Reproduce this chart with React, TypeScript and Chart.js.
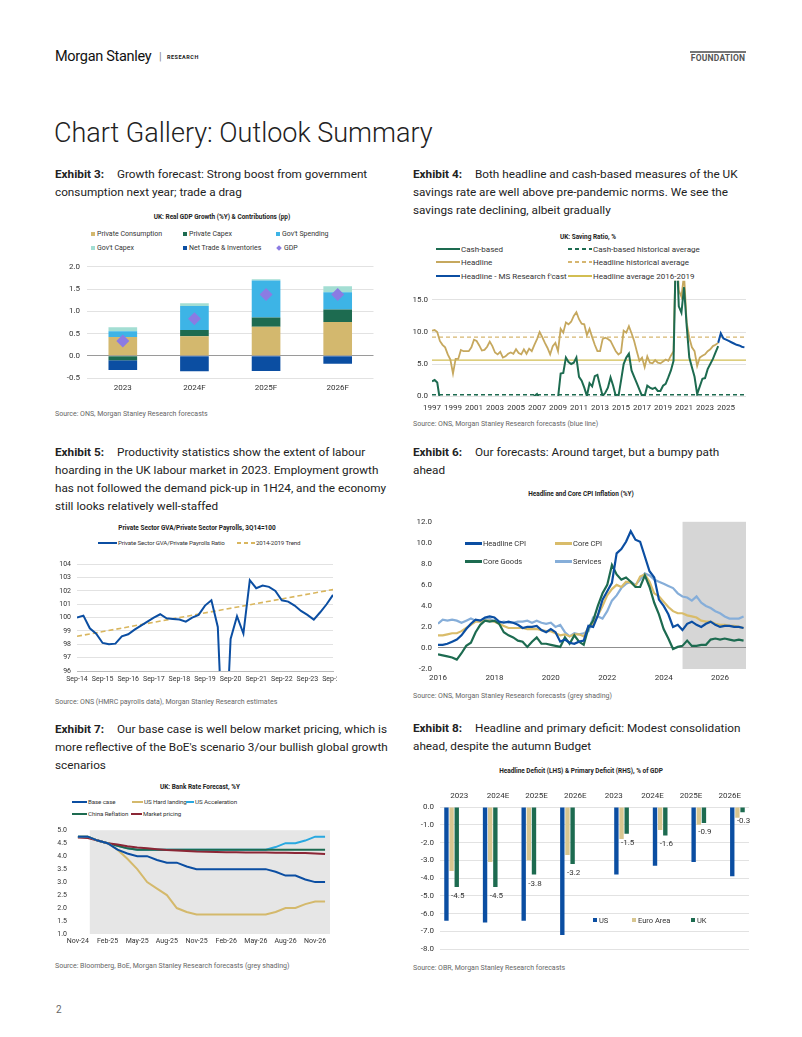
import React, { useEffect, useRef } from 'react';
import { Chart, registerables } from 'chart.js';

Chart.register(...registerables);

const FONT = 'Roboto, "Noto Sans", "DejaVu Sans", sans-serif';
Chart.defaults.font.family = FONT;
Chart.defaults.color = '#333';

// ================= Exhibit 3 data =================
const gdpYears = ['2023', '2024F', '2025F', '2026F'];
const privateConsumption = [0.42, 0.44, 0.65, 0.76];
const privateCapex = [-0.1, 0.14, 0.21, 0.28];
const govSpending = [0.13, 0.54, 0.83, 0.39];
const govCapex = [0.09, 0.06, 0.03, 0.13];
const netTradeInventories = [-0.22, -0.35, -0.34, -0.18];
const gdpTotal = [0.33, 0.83, 1.38, 1.38];

// ================= Exhibit 4 data (quarterly, 1997Q1 - 2024Q2) =================
const savingStartYear = 1997;
const savingYearTicks = [1997, 1999, 2001, 2003, 2005, 2007, 2009, 2011, 2013, 2015, 2017, 2019, 2021, 2023, 2025];
const headlineSaving = [
  10.2, 10.3, 10.0, 8.6,
  8.0, 7.6, 6.5, 5.7,
  3.5, 5.8, 5.8, 7.2,
  7.0, 7.0, 7.0, 7.6,
  8.8, 8.6, 7.9, 7.1,
  7.2, 7.7, 8.5, 7.8,
  6.8, 6.5, 6.9, 6.0,
  6.2, 6.6, 6.8, 6.6,
  7.3, 6.7, 6.5, 7.3,
  6.6, 7.4, 7.0, 8.0,
  8.9, 10.0, 9.2, 8.3,
  7.5, 6.5, 7.8, 8.3,
  7.0, 10.5, 9.9, 11.5,
  11.2, 11.6, 12.5, 13.1,
  12.0, 11.3, 11.2, 9.5,
  10.5, 9.2, 8.0, 7.0,
  7.0, 8.9, 9.1, 8.9,
  8.6, 7.8, 7.0, 6.5,
  6.8, 10.2, 9.9, 10.9,
  9.8, 8.6, 7.0, 5.5,
  6.0, 4.5, 6.2, 5.2,
  5.1, 5.6, 5.2, 5.1,
  5.4, 5.7, 5.5, 6.3,
  7.0, 26.0, 16.5, 15.5,
  19.0, 11.5, 9.1, 7.6,
  7.0, 4.7, 6.0, 6.3,
  6.5, 7.0, 7.3, 7.8,
  8.0, 8.3,
];
const cashSaving = [
  2.3, 2.5, 2.1, -0.6,
  -1.5, -2.0, -2.5, -2.8,
  -3.0, -2.5, -2.0, -1.5,
  -1.2, -1.0, -0.8, -0.5,
  -0.3, -0.1, -0.6, -1.2,
  -1.8, -2.2, -2.5, -3.0,
  -3.2, -3.5, -3.2, -3.6,
  -3.4, -3.0, -3.0, -2.8,
  -2.5, -2.8, -2.5, -2.2,
  -2.0, -1.0, -0.5, 0.0,
  0.3, -0.4, -1.2, -1.8,
  -2.2, -1.5, -1.0, -0.6,
  -0.3, 3.5, 3.6, 6.0,
  5.3, 5.0, 5.2, 6.0,
  3.0, 2.4, 1.3, 0.0,
  2.0, 1.5, 3.1, 3.3,
  1.6, 0.0, 0.5, 1.3,
  2.9, 1.6, 0.0, -0.1,
  2.4, 5.0, 6.0, 6.6,
  4.0, 3.0, 2.0, 1.0,
  0.0, 0.0, 1.6, 1.3,
  1.1, 1.3, 0.8, 0.8,
  1.6, 1.9, 2.9, 4.0,
  5.5, 25.0, 14.0, 13.0,
  17.0, 11.0, 6.0, 4.5,
  3.0, 0.3, 1.5, 2.7,
  2.8, 4.2, 5.0, 5.8,
  6.8, 7.8,
];
const forecastStartYear = 2024.25;
const headlineForecast = [8.3, 9.8, 9.0, 8.8, 8.6, 8.4, 8.2, 8.0, 7.9, 7.7, 7.6];
const CASH_HIST_AVG = 0.2;
const HEADLINE_HIST_AVG = 9.2;
const HEADLINE_AVG_2016_2019 = 5.6;
const savingRange = [1997, 2026.9];

// ================= Exhibit 5 data (quarterly from Sep-14) =================
const gvaTickLabels = ['Sep-14', 'Sep-15', 'Sep-16', 'Sep-17', 'Sep-18', 'Sep-19', 'Sep-20', 'Sep-21', 'Sep-22', 'Sep-23', 'Sep-24'];
const gvaPayrollRatio = [
  100.0, 100.15, 99.2, 98.8, 98.1, 98.0, 98.05, 98.6, 98.75, 99.1,
  99.4, 99.7, 100.0, 100.25, 99.95, 99.9, 99.85, 99.7, 100.0, 100.2,
  100.9, 101.3, 99.3, 88.0, 98.4, 100.1, 98.8, 102.8, 102.2, 102.4,
  102.3, 102.0, 101.3, 101.2, 100.9, 100.5, 100.2, 99.85, 100.4, 101.0,
  101.7,
];
const gvaTrendEnds = [98.6, 102.1];

// ================= Exhibit 6 data (every 2 months from Jan-2016) =================
const cpiStartYear = 2016;
const cpiYearTicks = [2016, 2018, 2020, 2022, 2024, 2026];
const CPI_FORECAST_START = 2024.67;
const headlineCPI = [
  0.3, 0.3, 0.4, 0.6, 0.8, 1.2,
  1.8, 2.3, 2.7, 2.6, 2.9, 3.0,
  2.9, 2.5, 2.4, 2.5, 2.4, 2.2,
  1.9, 2.0, 2.0, 2.1, 1.7, 1.5,
  1.8, 1.5, 0.6, 0.8, 0.5, 0.4,
  0.6, 0.7, 2.1, 2.0, 3.1, 4.6,
  5.4, 6.2, 9.0, 9.4, 10.1, 11.1,
  10.3, 10.1, 8.7, 7.3, 6.7, 4.6,
  4.0, 3.2, 2.0, 2.2, 1.7, 2.3,
  2.5, 2.2, 2.0, 2.3, 2.5, 2.2,
  2.0, 2.1, 2.1, 2.0, 2.0, 1.9,
];
const coreCPI = [
  1.2, 1.2, 1.3, 1.4, 1.4, 1.6,
  1.9, 2.2, 2.5, 2.5, 2.6, 2.6,
  2.5, 2.3, 2.1, 1.9, 1.9, 1.9,
  1.9, 1.8, 1.8, 1.8, 1.7, 1.6,
  1.6, 1.4, 1.2, 1.3, 1.1, 1.3,
  1.3, 1.1, 2.0, 2.3, 3.1, 4.0,
  5.0, 5.6, 6.0, 5.8, 6.3, 6.2,
  5.9, 6.8, 7.0, 6.3, 5.2, 4.9,
  4.4, 3.9, 3.5, 3.3, 3.3, 3.1,
  3.0, 2.9, 2.6, 2.5, 2.5, 2.3,
  2.2, 2.2, 2.1, 2.1, 2.0, 1.9,
];
const coreGoods = [
  -0.6, -0.7, -0.8, -0.9, -1.1, -0.5,
  0.2, 0.5, 1.5, 2.2, 2.6, 2.5,
  2.6, 2.3, 1.5, 1.2, 1.0, 0.7,
  0.6, 0.1, 0.6, 1.0, 0.4, 0.4,
  0.3, 0.2, 0.1, 1.0, 0.4, 1.2,
  0.6, 0.3, 1.9, 2.6, 4.0, 5.2,
  6.0, 7.9, 7.0, 6.5, 6.7, 6.3,
  5.8, 5.8, 6.9, 5.8, 4.3, 3.2,
  1.8, 0.9, -0.1, 0.1, 0.2, 0.7,
  0.2, 0.2, 0.3, 0.3, 0.8, 0.9,
  0.8, 0.9, 0.8, 0.7, 0.8, 0.7,
];
const servicesCPI = [
  2.3, 2.7, 2.6, 2.7, 2.6, 2.4,
  2.6, 2.8, 2.6, 2.6, 2.8, 2.8,
  2.5, 2.4, 2.5, 2.4, 2.4, 2.5,
  2.5, 2.6, 2.4, 2.6, 2.4, 2.3,
  2.4, 2.0, 2.2, 1.5, 1.1, 1.4,
  1.3, 1.4, 1.6, 2.9, 3.0, 2.8,
  3.5, 4.5, 5.0, 5.7, 6.1, 6.3,
  6.0, 6.5, 7.1, 6.9, 6.5, 6.3,
  6.1, 5.9, 5.7, 5.2, 4.9, 4.8,
  4.5, 4.9, 4.3, 4.0, 3.8, 3.5,
  3.3, 3.0, 2.8, 2.8, 2.8, 3.0,
];

// ================= Exhibit 7 data (monthly Nov-24 .. Dec-26) =================
const bankRateTickLabels = ['Nov-24', 'Feb-25', 'May-25', 'Aug-25', 'Nov-25', 'Feb-26', 'May-26', 'Aug-26', 'Nov-26'];
const BANK_SHADE_START = 1.2;
const baseCase = [4.75, 4.75, 4.6, 4.5, 4.25, 4.1, 4.0, 4.0, 3.85, 3.75, 3.75, 3.6, 3.5, 3.5, 3.5, 3.5, 3.5, 3.5, 3.5, 3.5, 3.4, 3.25, 3.25, 3.1, 3.0, 3.0];
const usHardLanding = [4.75, 4.75, 4.6, 4.5, 4.25, 3.9, 3.5, 3.0, 2.75, 2.5, 2.0, 1.85, 1.75, 1.75, 1.75, 1.75, 1.75, 1.75, 1.75, 1.75, 1.85, 2.0, 2.0, 2.15, 2.25, 2.25];
const usAcceleration = [4.75, 4.75, 4.6, 4.5, 4.4, 4.3, 4.25, 4.25, 4.25, 4.25, 4.25, 4.25, 4.25, 4.25, 4.25, 4.25, 4.25, 4.25, 4.25, 4.25, 4.35, 4.5, 4.5, 4.6, 4.75, 4.75];
const chinaReflation = [4.75, 4.75, 4.6, 4.5, 4.4, 4.3, 4.25, 4.25, 4.25, 4.25, 4.25, 4.25, 4.25, 4.25, 4.25, 4.25, 4.25, 4.25, 4.25, 4.25, 4.25, 4.25, 4.25, 4.25, 4.25, 4.25];
const marketPricing = [4.72, 4.7, 4.6, 4.5, 4.45, 4.38, 4.33, 4.3, 4.27, 4.24, 4.22, 4.2, 4.18, 4.17, 4.16, 4.15, 4.15, 4.14, 4.14, 4.14, 4.13, 4.13, 4.12, 4.12, 4.1, 4.08];

// ================= Exhibit 8 data =================
const deficitCategories = ['2023', '2024E', '2025E', '2026E', '2023', '2024E', '2025E', '2026E'];
const usDeficit = [-6.4, -6.5, -6.4, -7.2, -3.8, -3.3, -3.1, -3.9];
const euroDeficit = [-3.6, -3.1, -3.0, -2.7, -1.8, -1.3, -1.0, -0.6];
const ukDeficit = [-4.5, -4.5, -3.8, -3.2, -1.5, -1.6, -0.9, -0.3];
const HEADLINE_COUNT = 4;

// ================= Colours =================
const COL = {
  navy: '#0B4EA2',
  tan: '#D3B86E',
  green: '#1D6B50',
  cyan: '#3DB4E6',
  mint: '#A3DED3',
  purple: '#8B7BE3',
  lightBlue: '#86AED9',
  maroon: '#8B2635',
  headlineTan: '#C6A85E',
  avgYellow: '#D2BE52',
  accel: '#29A8E0',
  euro: '#D8C690',
  grid: '#e2e2e2',
};

const shadePlugin = (id: string, from: number, color: string) => ({
  id,
  beforeDraw(chart: any) {
    const { ctx, chartArea, scales } = chart;
    const x0 = scales.x.getPixelForValue(from);
    ctx.save();
    ctx.fillStyle = color;
    ctx.fillRect(x0, chartArea.top, chartArea.right - x0, chartArea.bottom - chartArea.top);
    ctx.restore();
  },
});

const valueLabelPlugin = {
  id: 'valueLabels',
  afterDatasetsDraw(chart: any) {
    const { ctx } = chart;
    chart.data.datasets.forEach((ds: any, di: number) => {
      if (!ds.showValueLabel) return;
      const meta = chart.getDatasetMeta(di);
      meta.data.forEach((el: any, i: number) => {
        const v = ds.data[i];
        if (v === null || v === undefined) return;
        ctx.save();
        ctx.font = `8px ${FONT}`;
        ctx.fillStyle = '#333';
        ctx.textAlign = 'center';
        ctx.textBaseline = 'middle';
        ctx.fillText(v.toFixed(1), el.x + 1, el.y + 9);
        ctx.restore();
      });
    });
  },
};

const tickFont = (size: number) => ({ size, family: FONT });
const xy = (start: number, step: number, arr: number[]) => arr.map((y, i) => ({ x: start + i * step, y }));
const hLine = (range: number[], v: number) => [{ x: range[0], y: v }, { x: range[1], y: v }];
const noGrid = { display: false, drawTicks: false };

const baseOpts = (padding: any) => ({
  animation: false,
  responsive: false,
  maintainAspectRatio: false,
  devicePixelRatio: 1,
  layout: { padding },
  plugins: { legend: { display: false }, tooltip: { enabled: false } },
});

// ---------- Exhibit 3 config
const gdpConfig = () => ({
  type: 'bar',
  data: {
    labels: gdpYears,
    datasets: [
      { type: 'line', label: 'GDP', data: gdpTotal, showLine: false, pointStyle: 'rectRot', pointRadius: 6.5, pointBackgroundColor: COL.purple, pointBorderWidth: 0, stack: 'gdp' },
      { label: 'Private Consumption', data: privateConsumption, backgroundColor: COL.tan, stack: 'c' },
      { label: 'Private Capex', data: privateCapex, backgroundColor: COL.green, stack: 'c' },
      { label: "Gov't Spending", data: govSpending, backgroundColor: COL.cyan, stack: 'c' },
      { label: "Gov't Capex", data: govCapex, backgroundColor: COL.mint, stack: 'c' },
      { label: 'Net Trade & Inventories', data: netTradeInventories, backgroundColor: COL.navy, stack: 'c' },
    ],
  },
  options: {
    ...baseOpts({ top: 8, right: 3, left: 0, bottom: 0 }),
    datasets: { bar: { categoryPercentage: 1, barPercentage: 0.4 } },
    scales: {
      x: {
        stacked: true,
        grid: noGrid,
        border: { display: false },
        ticks: { font: tickFont(8), padding: 5 },
        afterFit: (s: any) => { s.height = 20; },
      },
      y: {
        stacked: true,
        min: -0.5,
        max: 2,
        ticks: { stepSize: 0.5, callback: (v: any) => Number(v).toFixed(1), font: tickFont(8), padding: 7 },
        grid: { color: (c: any) => (c.tick && c.tick.value === 0 ? '#9a9a9a' : COL.grid), drawTicks: false },
        border: { display: false },
        afterFit: (s: any) => { s.width = 32; },
      },
    },
  },
});

// ---------- Exhibit 4 config
const savingConfig = () => ({
  type: 'line',
  data: {
    datasets: [
      { label: 'Cash-based', data: xy(savingStartYear, 0.25, cashSaving), borderColor: COL.green, borderWidth: 2, pointRadius: 0 },
      { label: 'Headline', data: xy(savingStartYear, 0.25, headlineSaving), borderColor: COL.headlineTan, borderWidth: 1.8, pointRadius: 0 },
      { label: "Headline - MS Research f'cast", data: xy(forecastStartYear, 0.25, headlineForecast), borderColor: COL.navy, borderWidth: 2, pointRadius: 0 },
      { label: 'Cash-based historical average', data: hLine(savingRange, CASH_HIST_AVG), borderColor: COL.green, borderWidth: 1.6, borderDash: [4, 3], pointRadius: 0 },
      { label: 'Headline historical average', data: hLine(savingRange, HEADLINE_HIST_AVG), borderColor: '#D6B670', borderWidth: 1.4, borderDash: [4, 3], pointRadius: 0 },
      { label: 'Headline average 2016-2019', data: hLine(savingRange, HEADLINE_AVG_2016_2019), borderColor: COL.avgYellow, borderWidth: 1.2, pointRadius: 0 },
    ],
  },
  options: {
    ...baseOpts({ top: 6, right: 2, left: 0, bottom: 0 }),
    scales: {
      x: {
        type: 'linear',
        min: savingRange[0],
        max: savingRange[1],
        afterBuildTicks: (s: any) => { s.ticks = savingYearTicks.map((v) => ({ value: v })); },
        ticks: { callback: (v: any) => String(v), font: tickFont(8), autoSkip: false, maxRotation: 0, padding: 7 },
        grid: noGrid,
        border: { display: false },
        afterFit: (s: any) => { s.height = 18; },
      },
      y: {
        min: 0,
        max: 18,
        afterBuildTicks: (s: any) => { s.ticks = s.ticks.filter((t: any) => t.value % 5 === 0); },
        ticks: { stepSize: 5, callback: (v: any) => Number(v).toFixed(1), font: tickFont(8), padding: 4 },
        grid: { color: COL.grid, drawTicks: false },
        border: { display: false },
        afterFit: (s: any) => { s.width = 22; },
      },
    },
  },
});

// ---------- Exhibit 5 config
const gvaConfig = () => ({
  type: 'line',
  data: {
    datasets: [
      { label: 'Private Sector GVA/Private Payrolls Ratio', data: xy(0, 1, gvaPayrollRatio), borderColor: COL.navy, borderWidth: 2, pointRadius: 0 },
      { label: '2014-2019 Trend', data: [{ x: 0, y: gvaTrendEnds[0] }, { x: gvaPayrollRatio.length - 1, y: gvaTrendEnds[1] }], borderColor: '#D9B65E', borderWidth: 1.6, borderDash: [5, 3], pointRadius: 0 },
    ],
  },
  options: {
    ...baseOpts({ top: 6, right: 22, left: 0, bottom: 0 }),
    scales: {
      x: {
        type: 'linear',
        min: 0,
        max: gvaPayrollRatio.length - 1,
        afterBuildTicks: (s: any) => { s.ticks = gvaTickLabels.map((_, i) => ({ value: i * 4 })); },
        ticks: { callback: (v: any) => gvaTickLabels[Math.round(v / 4)], font: tickFont(7), autoSkip: false, maxRotation: 0, padding: 4 },
        grid: noGrid,
        border: { display: true, color: '#bbb' },
        afterFit: (s: any) => { s.height = 16; },
      },
      y: {
        min: 96,
        max: 104,
        ticks: { stepSize: 1, font: tickFont(7), padding: 6 },
        grid: { color: COL.grid, drawTicks: false },
        border: { display: false },
        afterFit: (s: any) => { s.width = 22; },
      },
    },
  },
});

// ---------- Exhibit 6 config
const cpiConfig = () => ({
  type: 'line',
  data: {
    datasets: [
      { label: 'Headline CPI', data: xy(cpiStartYear, 1 / 6, headlineCPI), borderColor: COL.navy, borderWidth: 2.2, pointRadius: 0 },
      { label: 'Core Goods', data: xy(cpiStartYear, 1 / 6, coreGoods), borderColor: COL.green, borderWidth: 2.2, pointRadius: 0 },
      { label: 'Core CPI', data: xy(cpiStartYear, 1 / 6, coreCPI), borderColor: '#D9BC6A', borderWidth: 2.2, pointRadius: 0 },
      { label: 'Services', data: xy(cpiStartYear, 1 / 6, servicesCPI), borderColor: COL.lightBlue, borderWidth: 2.2, pointRadius: 0 },
    ],
  },
  plugins: [shadePlugin('cpiShade', CPI_FORECAST_START, '#d6d6d6')],
  options: {
    ...baseOpts({ top: 6, right: 4, left: 0, bottom: 0 }),
    scales: {
      x: {
        type: 'linear',
        min: cpiStartYear,
        max: 2026.92,
        afterBuildTicks: (s: any) => { s.ticks = cpiYearTicks.map((v) => ({ value: v })); },
        ticks: { callback: (v: any) => String(v), font: tickFont(8), autoSkip: false, maxRotation: 0, padding: 4 },
        grid: noGrid,
        border: { display: false },
        afterFit: (s: any) => { s.height = 18; },
      },
      y: {
        min: -2,
        max: 12,
        ticks: { stepSize: 2, callback: (v: any) => Number(v).toFixed(1), font: tickFont(8), padding: 6 },
        grid: { color: (c: any) => (c.tick && c.tick.value === 0 ? '#8f8f8f' : 'rgba(0,0,0,0)'), drawTicks: false },
        border: { display: false },
        afterFit: (s: any) => { s.width = 28; },
      },
    },
  },
});

// ---------- Exhibit 7 config
const bankConfig = () => ({
  type: 'line',
  data: {
    datasets: [
      { label: 'Base case', data: xy(0, 1, baseCase), borderColor: COL.navy, borderWidth: 2, pointRadius: 0 },
      { label: 'US Hard landing', data: xy(0, 1, usHardLanding), borderColor: '#D4B96C', borderWidth: 2, pointRadius: 0 },
      { label: 'Market pricing', data: xy(0, 1, marketPricing), borderColor: COL.maroon, borderWidth: 2, pointRadius: 0 },
      { label: 'China Reflation', data: xy(0, 1, chinaReflation), borderColor: COL.green, borderWidth: 2, pointRadius: 0 },
      { label: 'US Acceleration', data: xy(0, 1, usAcceleration), borderColor: COL.accel, borderWidth: 2, pointRadius: 0 },
    ],
  },
  plugins: [shadePlugin('bankShade', BANK_SHADE_START, '#e6e6e6')],
  options: {
    ...baseOpts({ top: 6, right: 3, left: 0, bottom: 0 }),
    scales: {
      x: {
        type: 'linear',
        min: -0.7,
        max: 25.5,
        afterBuildTicks: (s: any) => { s.ticks = bankRateTickLabels.map((_, i) => ({ value: i * 3 })); },
        ticks: { callback: (v: any) => bankRateTickLabels[Math.round(v / 3)], font: tickFont(7), autoSkip: false, maxRotation: 0, padding: 3 },
        grid: noGrid,
        border: { display: false },
        afterFit: (s: any) => { s.height = 14; },
      },
      y: {
        min: 1,
        max: 5,
        ticks: { stepSize: 0.5, callback: (v: any) => Number(v).toFixed(1), font: tickFont(7), padding: 4 },
        grid: noGrid,
        border: { display: false },
        afterFit: (s: any) => { s.width = 16; },
      },
    },
  },
});

// ---------- Exhibit 8 config
const deficitConfig = () => {
  const head = (arr: number[]) => arr.map((v, i) => (i < HEADLINE_COUNT ? v : null));
  const prim = (arr: number[]) => arr.map((v, i) => (i >= HEADLINE_COUNT ? v : null));
  return {
    type: 'bar',
    data: {
      labels: deficitCategories,
      datasets: [
        { label: 'US', data: head(usDeficit), backgroundColor: COL.navy },
        { label: 'Euro Area', data: head(euroDeficit), backgroundColor: COL.euro },
        { label: 'UK', data: head(ukDeficit), backgroundColor: COL.green, showValueLabel: true },
        { label: 'US (primary)', data: prim(usDeficit), backgroundColor: COL.navy },
        { label: 'Euro Area (primary)', data: prim(euroDeficit), backgroundColor: COL.euro },
        { label: 'UK (primary)', data: prim(ukDeficit), backgroundColor: COL.green, showValueLabel: true },
      ],
    },
    plugins: [valueLabelPlugin],
    options: {
      ...baseOpts({ top: 2, right: 2, left: 0, bottom: 10 }),
      datasets: { bar: { categoryPercentage: 0.8, barPercentage: 0.85 } },
      scales: {
        x: {
          position: 'top',
          grid: noGrid,
          border: { display: false },
          ticks: { font: tickFont(8), padding: 6 },
          afterFit: (s: any) => { s.height = 16; },
        },
        y: {
          min: -8,
          max: 0,
          ticks: { stepSize: 1, callback: (v: any) => Number(v).toFixed(1), font: tickFont(8), padding: 6 },
          grid: { color: COL.grid, drawTicks: false },
          border: { display: false },
          afterFit: (s: any) => { s.width = 30; },
        },
      },
    },
  };
};

// ================= Components =================
function ChartBox({ left, top, width, height, clipWidth, config }: any) {
  const ref = useRef<HTMLCanvasElement | null>(null);
  useEffect(() => {
    const chart = new Chart(ref.current as HTMLCanvasElement, config() as any);
    return () => chart.destroy();
  }, []);
  return (
    <div style={{ position: 'absolute', left, top, width: clipWidth ?? width, height, overflow: 'hidden' }}>
      <canvas ref={ref} width={width} height={height} style={{ width, height, display: 'block' }} />
    </div>
  );
}

function ExhibitText({ left, top, num, lines }: any) {
  return (
    <div style={{ position: 'absolute', left, top, fontFamily: FONT, fontSize: 11.75, lineHeight: '18px', color: '#222', whiteSpace: 'nowrap' }}>
      {lines.map((l: string, i: number) => (
        <div key={i}>
          {i === 0 && <span style={{ display: 'inline-block', width: 62, fontWeight: 700 }}>{`Exhibit ${num}:`}</span>}
          {l}
        </div>
      ))}
    </div>
  );
}

function ChartTitle({ cx, cy, text }: any) {
  return (
    <div style={{ position: 'absolute', left: cx - 200, top: cy - 6, width: 400, height: 12, lineHeight: '12px', textAlign: 'center', fontFamily: FONT, fontSize: 7.5, fontWeight: 700, color: '#222', whiteSpace: 'nowrap', transform: 'scaleX(0.86)' }}>
      {text}
    </div>
  );
}

function Source({ left, cy, text }: any) {
  return (
    <div style={{ position: 'absolute', left, top: cy - 6, height: 12, lineHeight: '12px', fontFamily: FONT, fontSize: 7, color: '#666', whiteSpace: 'nowrap' }}>
      {text}
    </div>
  );
}

function Swatch({ kind, color, w = 5, thick = 2 }: any) {
  if (kind === 'box') return <span style={{ display: 'inline-block', width: w, height: w, background: color, marginRight: 2 }} />;
  if (kind === 'diamond') return <span style={{ display: 'inline-block', width: w, height: w, background: color, marginRight: 3, transform: 'rotate(45deg)' }} />;
  if (kind === 'dash')
    return <span style={{ display: 'inline-block', width: w, height: thick, marginRight: 1, background: `repeating-linear-gradient(to right, ${color} 0 4px, transparent 4px 7px)` }} />;
  return <span style={{ display: 'inline-block', width: w, height: thick, background: color, marginRight: 1 }} />;
}

function Legend({ items, fontSize, letterSpacing = 0 }: any) {
  return (
    <>
      {items.map((it: any) => (
        <div key={it.label} style={{ position: 'absolute', left: it.x, top: it.y - 6, height: 12, display: 'flex', alignItems: 'center', fontFamily: FONT, fontSize, letterSpacing, color: '#333', whiteSpace: 'nowrap' }}>
          <Swatch kind={it.kind} color={it.color} w={it.w} thick={it.thick} />
          <span>{it.label}</span>
        </div>
      ))}
    </>
  );
}

export default function App() {
  return (
    <div style={{ position: 'absolute', left: 0, top: 0, width: 802, height: 1037, background: '#fff', overflow: 'hidden', fontFamily: FONT }}>
      {/* Header */}
      <div style={{ position: 'absolute', left: 55, top: 48, height: 18, lineHeight: '18px', fontSize: 14.5, color: '#111', letterSpacing: -0.3 }}>Morgan Stanley</div>
      <div style={{ position: 'absolute', left: 159, top: 49, height: 16, lineHeight: '16px', fontSize: 11, color: '#888' }}>|</div>
      <div style={{ position: 'absolute', left: 167, top: 52, height: 10, lineHeight: '10px', fontSize: 5.5, fontWeight: 700, color: '#222', letterSpacing: 0.5 }}>RESEARCH</div>
      <div style={{ position: 'absolute', left: 690, top: 51, width: 56, height: 2, background: '#777' }} />
      <div style={{ position: 'absolute', left: 690, top: 53, width: 56, height: 11, lineHeight: '11px', fontSize: 8.5, fontWeight: 700, color: '#555', textAlign: 'center', letterSpacing: 0.2 }}>FOUNDATION</div>

      <div style={{ position: 'absolute', left: 54, top: 114, height: 38, lineHeight: '38px', fontSize: 27, fontWeight: 300, color: '#222', whiteSpace: 'nowrap' }}>Chart Gallery: Outlook Summary</div>

      {/* Exhibit 3 */}
      <ExhibitText left={55} top={165} num={3} lines={['Growth forecast: Strong boost from government', 'consumption next year; trade a drag']} />
      <ChartTitle cx={222} cy={217} text="UK: Real GDP Growth (%Y) & Contributions (pp)" />
      <Legend
        fontSize={7}
        items={[
          { label: 'Private Consumption', color: COL.tan, kind: 'box', w: 4, x: 91, y: 234 },
          { label: 'Private Capex', color: COL.green, kind: 'box', w: 4, x: 183, y: 234 },
          { label: "Gov't Spending", color: COL.cyan, kind: 'box', w: 4, x: 276, y: 234 },
          { label: "Gov't Capex", color: COL.mint, kind: 'box', w: 4, x: 91, y: 248 },
          { label: 'Net Trade & Inventories', color: COL.navy, kind: 'box', w: 4, x: 183, y: 248 },
          { label: 'GDP', color: COL.purple, kind: 'diamond', w: 4, x: 277, y: 248 },
        ]}
      />
      <ChartBox left={55} top={255} width={325} height={143} config={gdpConfig} />
      <Source left={55} cy={414} text="Source: ONS, Morgan Stanley Research forecasts" />

      {/* Exhibit 4 */}
      <ExhibitText left={413} top={165} num={4} lines={['Both headline and cash-based measures of the UK', 'savings rate are well above pre-pandemic norms. We see the', 'savings rate declining, albeit gradually']} />
      <ChartTitle cx={588} cy={237} text="UK: Saving Ratio, %" />
      <Legend
        fontSize={8}
        items={[
          { label: 'Cash-based', color: COL.green, kind: 'line', w: 24, thick: 2.5, x: 436, y: 249 },
          { label: 'Headline', color: COL.headlineTan, kind: 'line', w: 24, thick: 2.5, x: 436, y: 262 },
          { label: "Headline - MS Research f'cast", color: COL.navy, kind: 'line', w: 24, thick: 2.5, x: 436, y: 276 },
          { label: 'Cash-based historical average', color: COL.green, kind: 'dash', w: 24, thick: 2, x: 568, y: 249 },
          { label: 'Headline historical average', color: '#D6B670', kind: 'dash', w: 24, thick: 2, x: 568, y: 262 },
          { label: 'Headline average 2016-2019', color: COL.avgYellow, kind: 'line', w: 24, thick: 1.5, x: 568, y: 276 },
        ]}
      />
      <ChartBox left={410} top={272} width={338} height={142} config={savingConfig} />
      <Source left={413} cy={424} text="Source: ONS, Morgan Stanley Research forecasts (blue line)" />

      {/* Exhibit 5 */}
      <ExhibitText left={55} top={443} num={5} lines={['Productivity statistics show the extent of labour', 'hoarding in the UK labour market in 2023. Employment growth', 'has not followed the demand pick-up in 1H24, and the economy', 'still looks relatively well-staffed']} />
      <ChartTitle cx={197} cy={528} text="Private Sector GVA/Private Sector Payrolls, 3Q14=100" />
      <Legend
        fontSize={6.2}
        letterSpacing={-0.15}
        items={[
          { label: 'Private Sector GVA/Private Payrolls Ratio', color: COL.navy, kind: 'line', w: 19, thick: 2, x: 98, y: 543 },
          { label: '2014-2019 Trend', color: '#D9B65E', kind: 'dash', w: 18, thick: 1.6, x: 237, y: 543 },
        ]}
      />
      <ChartBox left={55} top={554} width={300} clipWidth={282} height={133} config={gvaConfig} />
      <Source left={55} cy={702} text="Source: ONS (HMRC payrolls data), Morgan Stanley Research estimates" />

      {/* Exhibit 6 */}
      <ExhibitText left={413} top={443} num={6} lines={['Our forecasts: Around target, but a bumpy path', 'ahead']} />
      <ChartTitle cx={581} cy={494} text="Headline and Core CPI Inflation (%Y)" />
      <ChartBox left={410} top={511} width={340} height={176} config={cpiConfig} />
      <Legend
        fontSize={7.5}
        items={[
          { label: 'Headline CPI', color: COL.navy, kind: 'line', w: 17, thick: 3, x: 465, y: 543 },
          { label: 'Core CPI', color: '#D9BC6A', kind: 'line', w: 17, thick: 3, x: 555, y: 543 },
          { label: 'Core Goods', color: COL.green, kind: 'line', w: 17, thick: 3, x: 465, y: 561 },
          { label: 'Services', color: COL.lightBlue, kind: 'line', w: 17, thick: 3, x: 555, y: 561 },
        ]}
      />
      <Source left={413} cy={696} text="Source: ONS, Morgan Stanley Research forecasts (grey shading)" />

      {/* Exhibit 7 */}
      <ExhibitText left={55} top={720} num={7} lines={['Our base case is well below market pricing, which is', "more reflective of the BoE's scenario 3/our bullish global growth", 'scenarios']} />
      <ChartTitle cx={200} cy={787} text="UK: Bank Rate Forecast, %Y" />
      <Legend
        fontSize={6.2}
        letterSpacing={-0.1}
        items={[
          { label: 'Base case', color: COL.navy, kind: 'line', w: 15, thick: 2, x: 72, y: 802 },
          { label: 'US Hard landing', color: '#D4B96C', kind: 'line', w: 11, thick: 2, x: 132, y: 802 },
          { label: 'US Acceleration', color: COL.accel, kind: 'line', w: 8, thick: 2, x: 186, y: 802 },
          { label: 'China Reflation', color: COL.green, kind: 'line', w: 15, thick: 2, x: 72, y: 814 },
          { label: 'Market pricing', color: COL.maroon, kind: 'line', w: 11, thick: 2, x: 131, y: 814 },
        ]}
      />
      <ChartBox left={55} top={822} width={278} height={126} config={bankConfig} />
      <Source left={55} cy={966} text="Source: Bloomberg, BoE, Morgan Stanley Research forecasts (grey shading)" />

      {/* Exhibit 8 */}
      <ExhibitText left={413} top={719} num={8} lines={['Headline and primary deficit: Modest consolidation', 'ahead, despite the autumn Budget']} />
      <ChartTitle cx={581} cy={771} text="Headline Deficit (LHS) & Primary Deficit (RHS), % of GDP" />
      <ChartBox left={410} top={789} width={341} height={171} config={deficitConfig} />
      <Legend
        fontSize={7.5}
        items={[
          { label: 'US', color: COL.navy, kind: 'box', w: 4, x: 593, y: 920 },
          { label: 'Euro Area', color: COL.euro, kind: 'box', w: 4, x: 632, y: 920 },
          { label: 'UK', color: COL.green, kind: 'box', w: 4, x: 691, y: 920 },
        ]}
      />
      <Source left={413} cy={968} text="Source: OBR, Morgan Stanley Research forecasts" />

      <div style={{ position: 'absolute', left: 56, top: 1004, height: 12, lineHeight: '12px', fontSize: 10, color: '#666' }}>2</div>
    </div>
  );
}
